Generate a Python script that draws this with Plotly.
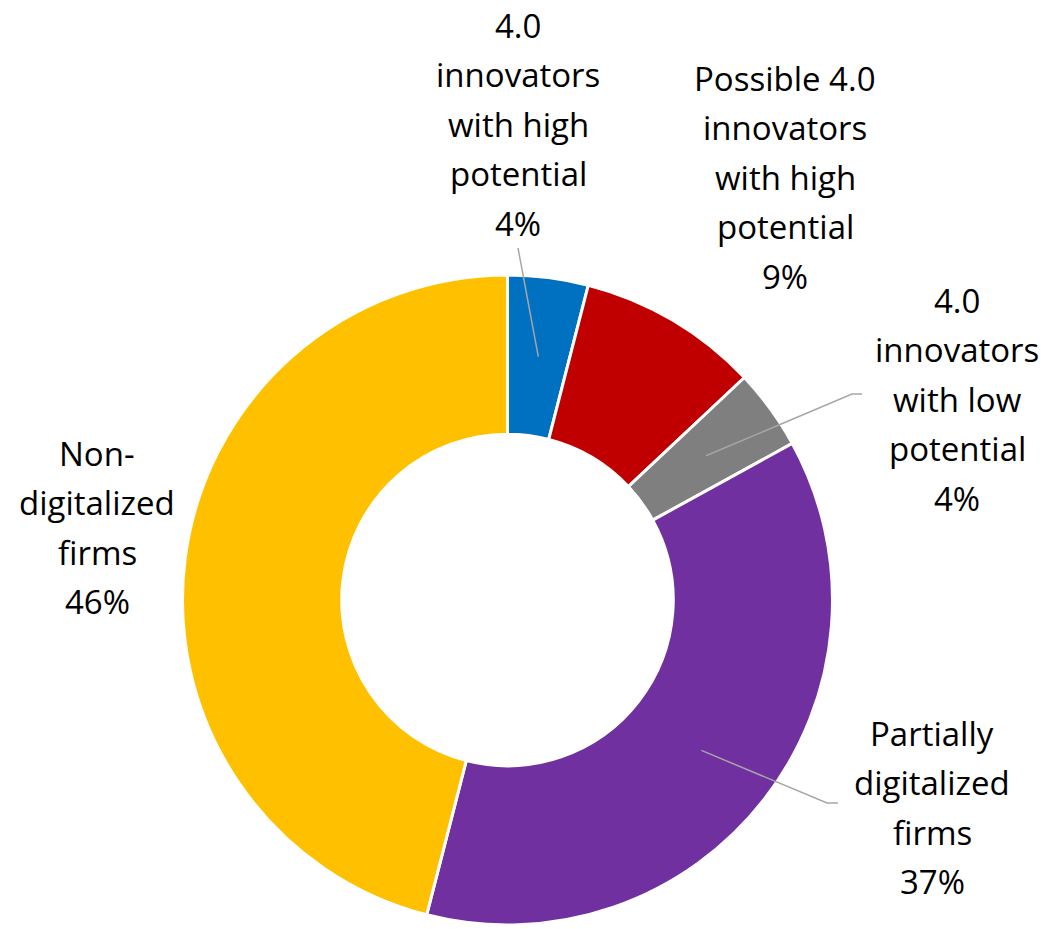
import math
import plotly.graph_objects as go

# Share of firms by digitalization profile
categories = [
    "4.0 innovators with high potential",
    "Possible 4.0 innovators with high potential",
    "4.0 innovators with low potential",
    "Partially digitalized firms",
    "Non-digitalized firms",
]
label_lines = [
    ["4.0", "innovators", "with high", "potential"],
    ["Possible 4.0", "innovators", "with high", "potential"],
    ["4.0", "innovators", "with low", "potential"],
    ["Partially", "digitalized", "firms"],
    ["Non-", "digitalized", "firms"],
]
shares = [4, 9, 4, 37, 46]
colors = ["#0070C0", "#C00000", "#7F7F7F", "#7030A0", "#FFC000"]

W, H = 1047, 929
CX, CY, R = 507.5, 600.0, 325.0
HOLE = 0.51
FONT = "Open Sans, Noto Sans, sans-serif"
FSIZE = 33
LINE_GAP = 49.5

# Label placement: centre x and baseline of the first line
label_pos = [(518, 37), (785, 90), (957, 312), (932, 745), (97, 465)]
# Leader lines: outer points (label end first), inner end computed from the slice
leaders = {
    0: [(518, 248)],
    2: [(862, 394), (852, 394)],
    3: [(838, 803), (827, 803)],
}

fig = go.Figure()
fig.add_trace(go.Pie(
    labels=categories,
    values=shares,
    sort=False,
    direction="clockwise",
    rotation=0,
    hole=HOLE,
    marker=dict(colors=colors, line=dict(color="white", width=3)),
    textinfo="none",
    domain=dict(x=[(CX - R) / W, (CX + R) / W],
                y=[(H - CY - R) / H, (H - CY + R) / H]),
    showlegend=False,
))

# Invisible pixel-unit axes for label and leader placement
fig.add_trace(go.Scatter(x=[0, W], y=[0, H], mode="markers",
                         marker=dict(opacity=0), hoverinfo="skip", showlegend=False))

total = sum(shares)
annotations = []
shapes = []
cum = 0.0
for i, (lines, v) in enumerate(zip(label_lines, shares)):
    mid = (cum + v / 2) / total
    cum += v
    text_lines = lines + [f"{v}%"]
    x0, base0 = label_pos[i]
    for k, t in enumerate(text_lines):
        annotations.append(dict(
            x=x0, y=base0 + k * LINE_GAP - 12, text=t, showarrow=False,
            xref="x", yref="y", xanchor="center", yanchor="middle",
            font=dict(family=FONT, size=FSIZE, color="#000000"),
        ))
    if i in leaders:
        ang = 2 * math.pi * mid
        rm = R * (1 + HOLE) / 2
        px = CX + rm * math.sin(ang)
        py = CY - rm * math.cos(ang)
        pts = leaders[i] + [(px, py)]
        path = "M " + " L ".join(f"{a:.1f},{b:.1f}" for a, b in pts)
        shapes.append(dict(type="path", path=path, xref="x", yref="y",
                           layer="above",
                           line=dict(color="#A6A6A6", width=1.5)))

fig.update_layout(
    width=W, height=H,
    margin=dict(l=0, r=0, t=0, b=0),
    paper_bgcolor="white", plot_bgcolor="white",
    xaxis=dict(range=[0, W], visible=False, fixedrange=True),
    yaxis=dict(range=[H, 0], visible=False, fixedrange=True),
    annotations=annotations,
    shapes=shapes,
)

fig.write_html("out.html")
